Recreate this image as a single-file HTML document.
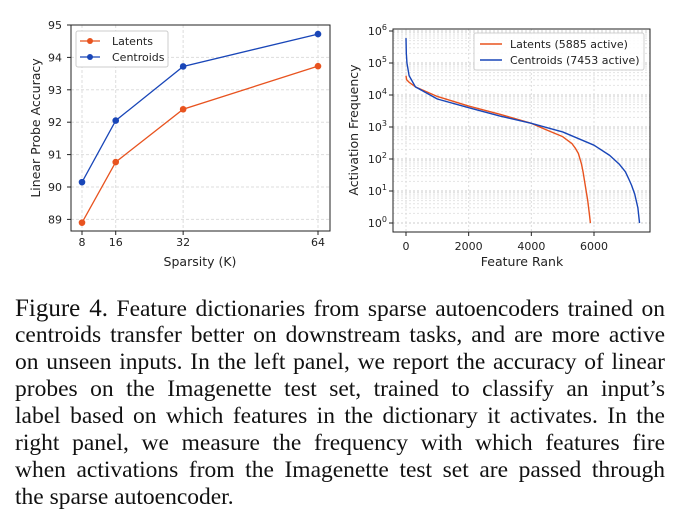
<!DOCTYPE html>
<html><head><meta charset="utf-8"><style>
body{margin:0;width:679px;height:526px;background:#fff;overflow:hidden;position:relative}
svg text{font-family:"DejaVu Sans","Liberation Sans",sans-serif;fill:#222}
.cap{position:absolute;left:15px;width:650px;font-family:"Liberation Serif",serif;font-size:23.5px;color:#111}
.ln{height:27px;line-height:27px;white-space:nowrap;text-align:justify;text-align-last:justify}
.ln.last{text-align-last:left}
</style></head><body>
<svg id="chart" width="679" height="290" style="position:absolute;left:0;top:0"></svg>
<div class="cap" style="top:295px">
<div class="ln"><span style="font-size:25px">Figure 4.</span> Feature dictionaries from sparse autoencoders trained on</div>
<div class="ln">centroids transfer better on downstream tasks, and are more active</div>
<div class="ln">on unseen inputs. In the left panel, we report the accuracy of linear</div>
<div class="ln">probes on the Imagenette test set, trained to classify an input’s</div>
<div class="ln">label based on which features in the dictionary it activates. In the</div>
<div class="ln">right panel, we measure the frequency with which features fire</div>
<div class="ln">when activations from the Imagenette test set are passed through</div>
<div class="ln last">the sparse autoencoder.</div>
</div>
<script>
const sparsity=[8,16,32,64];
const latentsAcc=[88.9,90.77,92.4,93.73];
const centroidsAcc=[90.15,92.05,93.72,94.72];
const accTicks=[89,90,91,92,93,94,95];
const rankL=[0,20,100,300,1000,2000,3000,4000,4500,5000,5300,5400,5500,5600,5650,5700,5750,5800,5850,5885];
const freqL=[40000,30000,25000,18000,9000,4500,2500,1300,800,500,300,220,150,70,40,20,10,5,2,1];
const rankC=[0,10,30,100,300,1000,2000,3000,4000,5000,6000,6500,6800,7000,7100,7200,7300,7400,7453];
const freqC=[600000,200000,100000,40000,18000,7500,4000,2200,1300,700,270,130,70,40,25,15,8,3,1];
const rankTicks=[0,2000,4000,6000];
const expTicks=[0,1,2,3,4,5,6];
const ORANGE="#e8531f",BLUE="#1946b8";
const svg=document.getElementById('chart');const NS="http://www.w3.org/2000/svg";
function el(t,a,p){const e=document.createElementNS(NS,t);for(const k in a)e.setAttribute(k,a[k]);(p||svg).appendChild(e);return e;}
function tx(x,y,s,a,sz){const e=el('text',Object.assign({x:x,y:y,'font-size':sz||11},a||{}));e.textContent=s;return e;}
// left
const X1=v=>82+(v-8)*236/56, Y1=v=>25+(95-v)*32.4;
const g1=el('g',{});
sparsity.forEach(v=>{el('line',{x1:X1(v),x2:X1(v),y1:25,y2:231,stroke:'#ddd','stroke-dasharray':'3,2'},g1);
 const t=tx(X1(v),246,v,{'text-anchor':'middle'});
 el('line',{x1:X1(v),x2:X1(v),y1:231,y2:235,stroke:'#222'},g1);});
accTicks.forEach(v=>{el('line',{x1:71,x2:330,y1:Y1(v),y2:Y1(v),stroke:'#ddd','stroke-dasharray':'3,2'},g1);
 el('line',{x1:67,x2:71,y1:Y1(v),y2:Y1(v),stroke:'#222'},g1);
 const t=tx(62,Y1(v)+4,v,{'text-anchor':'end'});});
el('rect',{x:71,y:25,width:259,height:206,fill:'none',stroke:'#222'},g1);
[[latentsAcc,ORANGE,'latents-line'],[centroidsAcc,BLUE,'centroids-line']].forEach(([d,c,n])=>{
 const p=el('polyline',{points:d.map((v,i)=>X1(sparsity[i])+','+Y1(v)).join(' '),fill:'none',stroke:c,'stroke-width':1.3},g1);
 
 d.forEach((v,i)=>{const m=el('circle',{cx:X1(sparsity[i]),cy:Y1(v),r:3.3,fill:c},g1);});});
tx(200,266,'Sparsity (K)',{'text-anchor':'middle','font-size':12.5});
tx(0,0,'Linear Probe Accuracy',{'text-anchor':'middle','font-size':12.5,transform:'translate(40,128) rotate(-90)'});
el('rect',{x:76,y:31,width:92,height:36,fill:'#fff',stroke:'#ccc',rx:2},g1);
el('line',{x1:80,x2:100,y1:41,y2:41,stroke:ORANGE,'stroke-width':1.3});el('circle',{cx:90,cy:41,r:3,fill:ORANGE});tx(112,45,'Latents');
el('line',{x1:80,x2:100,y1:57,y2:57,stroke:BLUE,'stroke-width':1.3});el('circle',{cx:90,cy:57,r:3,fill:BLUE});tx(112,61,'Centroids');
// right
const X2=v=>406+v*188/6000, Y2=v=>223-Math.log10(v)*32;
const g2=el('g',{});
expTicks.forEach(e=>{if(e<6)for(let k=2;k<10;k++){const y=Y2(k*Math.pow(10,e));el('line',{x1:393,x2:650,y1:y,y2:y,stroke:'#e4e4e4','stroke-dasharray':'2,2'},g2);}
 const y=Y2(Math.pow(10,e));el('line',{x1:393,x2:650,y1:y,y2:y,stroke:'#ccc','stroke-dasharray':'2,2'},g2);
 el('line',{x1:389,x2:393,y1:y,y2:y,stroke:'#222'},g2);
 const t=el('text',{x:387,y:y+4,'text-anchor':'end','font-size':11},g2);t.innerHTML='10<tspan dy="-5" font-size="8">'+e+'</tspan>';
 });
rankTicks.forEach(v=>{el('line',{x1:X2(v),x2:X2(v),y1:29,y2:232,stroke:'#ddd','stroke-dasharray':'2,2'},g2);
 el('line',{x1:X2(v),x2:X2(v),y1:232,y2:236,stroke:'#222'},g2);
 const t=tx(X2(v),250,v,{'text-anchor':'middle'});});
el('rect',{x:393,y:29,width:257,height:203,fill:'none',stroke:'#222'},g2);
[[rankL,freqL,ORANGE,'latents-curve'],[rankC,freqC,BLUE,'centroids-curve']].forEach(([r,f,c,n])=>{
 const p=el('polyline',{points:r.map((v,i)=>X2(v)+','+Y2(f[i])).join(' '),fill:'none',stroke:c,'stroke-width':1.4,'stroke-linejoin':'round'},g2);
 });
tx(522,266,'Feature Rank',{'text-anchor':'middle','font-size':12.5});
tx(0,0,'Activation Frequency',{'text-anchor':'middle','font-size':12.5,transform:'translate(358,130) rotate(-90)'});
el('rect',{x:474,y:33,width:170,height:37,fill:'#fff',stroke:'#ccc',rx:2,opacity:0.9},g2);
el('line',{x1:480,x2:502,y1:44,y2:44,stroke:ORANGE,'stroke-width':1.4});tx(510,48,'Latents (5885 active)');
el('line',{x1:480,x2:502,y1:60,y2:60,stroke:BLUE,'stroke-width':1.4});tx(510,64,'Centroids (7453 active)');
</script>
</body></html>
